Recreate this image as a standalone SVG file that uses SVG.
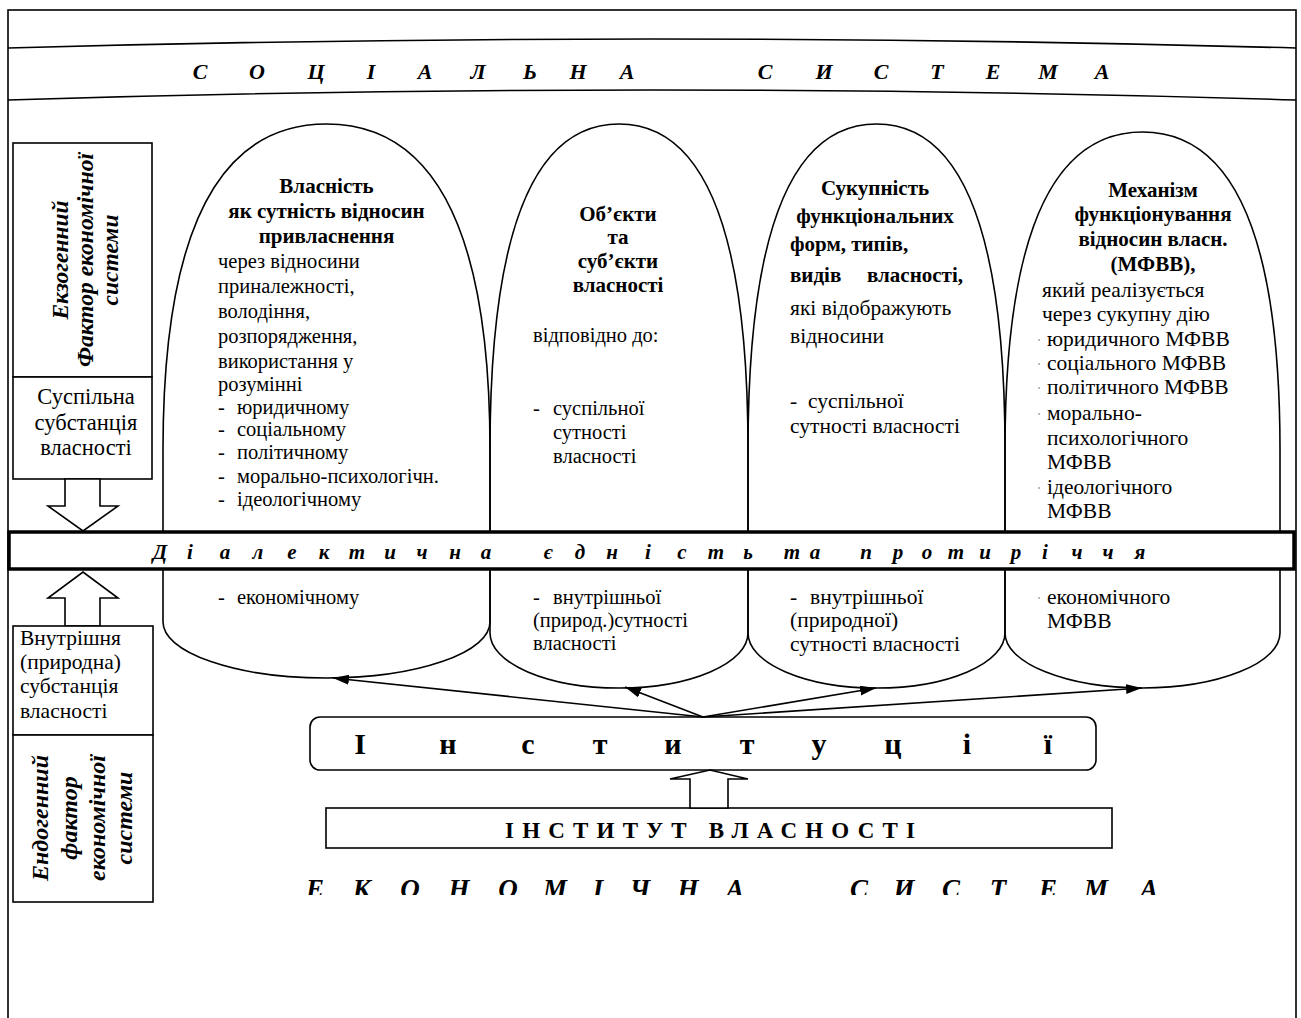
<svg xmlns="http://www.w3.org/2000/svg" width="1301" height="1018" viewBox="0 0 1301 1018">
<style>
.ln{fill:none;stroke:#000;stroke-width:1.6}
.box{fill:#fff;stroke:#000;stroke-width:1.6}
.t{font-family:"Liberation Serif","Times New Roman",serif;font-size:20.5px;fill:#000}
.b{font-weight:bold;font-size:21px}
.bi{font-weight:bold;font-style:italic}
.c{text-anchor:middle}
.r4{font-size:21.5px}
</style>
<defs>
<marker id="ah" markerUnits="userSpaceOnUse" markerWidth="18" markerHeight="12" refX="16" refY="5" orient="auto">
<path d="M0,0 L16,5 L0,10 z" fill="#000"/>
</marker>
<clipPath id="clipBottom"><rect x="0" y="860" width="1301" height="35"/></clipPath>
</defs>
<rect width="1301" height="1018" fill="#fff"/>

<g id="frame">
<rect x="8" y="10" width="1288" height="1030" class="ln"/>
</g>

<g id="social-system">
<path d="M8,48 Q650,30 1296,48" class="ln" stroke-width="2"/>
<path d="M8,100 Q650,80 1296,100" class="ln" stroke-width="2"/>
<text class="t bi c" style="font-size:22px" y="79" x="200 228 257 286 316 343 371 398 425 451 478 504 530 554 578 602 627 696 765 794 824 852 881 909 937 965 993 1020 1048 1075 1102">С О Ц І А Л Ь Н А С И С Т Е М А</text>
</g>

<g id="exogenous">
<rect x="13" y="143" width="139" height="234" class="box"/>
<g transform="translate(85,260) rotate(-90)">
<text class="t bi c" style="font-size:23.5px" x="0" y="-17">Екзогенний</text>
<text class="t bi c" style="font-size:23.5px" x="0" y="8">Фактор економічної</text>
<text class="t bi c" style="font-size:23.5px" x="0" y="33">системи</text>
</g>
</g>

<g id="social-substance">
<rect x="13" y="377" width="139" height="102" class="box"/>
<text class="t c" style="font-size:22.5px" x="86" y="404">Суспільна</text>
<text class="t c" style="font-size:22.5px" x="86" y="430">субстанція</text>
<text class="t c" style="font-size:22.5px" x="86" y="455">власності</text>
<polygon points="65,479 65,506 48,506 83,531 118,506 100,506 100,479" class="box"/>
</g>

<g id="inner-substance">
<polygon points="65,626 65,598 48,598 83,572 118,598 100,598 100,626" class="box"/>
<rect x="13" y="626" width="140" height="109" class="box"/>
<text class="t" style="font-size:21.5px" x="20" y="645">Внутрішня</text>
<text class="t" style="font-size:21.5px" x="20" y="669">(природна)</text>
<text class="t" style="font-size:21.5px" x="20" y="693">субстанція</text>
<text class="t" style="font-size:21.5px" x="20" y="718">власності</text>
</g>

<g id="endogenous">
<rect x="13" y="735" width="140" height="167" class="box" stroke-width="2.2"/>
<g transform="translate(83,818) rotate(-90)">
<text class="t bi c" style="font-size:24px" x="0" y="-35">Ендогенний</text>
<text class="t bi c" style="font-size:24px" x="0" y="-6">фактор</text>
<text class="t bi c" style="font-size:24px" x="0" y="22">економічної</text>
<text class="t bi c" style="font-size:24px" x="0" y="49">системи</text>
</g>
</g>

<g id="arch1">
<path d="M163,532 L163,450 C163,270 200,124 326.5,124 C453,124 490,270 490,450 L490,532" class="ln"/>
<path d="M163,570 L163,622 A163.5,56 0 0 0 490,622 L490,570" class="ln"/>
<text class="t b c" x="326.5" y="193">Власність</text>
<text class="t b c" x="326.5" y="218">як сутність відносин</text>
<text class="t b c" x="326.5" y="243">привласнення</text>
<text class="t" x="218" y="268">через відносини</text>
<text class="t" x="218" y="293">приналежності,</text>
<text class="t" x="218" y="318">володіння,</text>
<text class="t" x="218" y="343">розпорядження,</text>
<text class="t" x="218" y="368">використання у</text>
<text class="t" x="218" y="391">розумінні</text>
<text class="t" x="218" y="414">-</text><text class="t" x="237" y="414">юридичному</text>
<text class="t" x="218" y="436">-</text><text class="t" x="237" y="436">соціальному</text>
<text class="t" x="218" y="459">-</text><text class="t" x="237" y="459">політичному</text>
<text class="t" x="218" y="483">-</text><text class="t" x="237" y="483">морально-психологічн.</text>
<text class="t" x="218" y="506">-</text><text class="t" x="237" y="506">ідеологічному</text>
<text class="t" x="218" y="604">-</text><text class="t" x="237" y="604">економічному</text>
</g>

<g id="arch2">
<path d="M490,532 L490,450 C490,270 519,124 619,124 C719,124 748,270 748,450 L748,532" class="ln"/>
<path d="M490,570 L490,633 A129,55 0 0 0 748,633 L748,570" class="ln"/>
<text class="t b c" x="618" y="221">Об’єкти</text>
<text class="t b c" x="618" y="244">та</text>
<text class="t b c" x="618" y="268">суб’єкти</text>
<text class="t b c" x="618" y="292">власності</text>
<text class="t" x="533" y="342">відповідно до:</text>
<text class="t" x="533" y="415">-</text><text class="t" x="553" y="415">суспільної</text>
<text class="t" x="553" y="439">сутності</text>
<text class="t" x="553" y="463">власності</text>
<text class="t" x="533" y="604">-</text><text class="t" x="553" y="604">внутрішньої</text>
<text class="t" x="533" y="627">(природ.)сутності</text>
<text class="t" x="533" y="650">власності</text>
</g>

<g id="arch3">
<path d="M748,532 L748,450 C748,270 777,124 876.5,124 C976,124 1005,270 1005,450 L1005,532" class="ln"/>
<path d="M748,570 L748,633 A128.5,55 0 0 0 1005,633 L1005,570" class="ln"/>
<text class="t b c" x="875" y="195">Сукупність</text>
<text class="t b c" x="875" y="223">функціональних</text>
<text class="t b" x="790" y="251">форм, типів,</text>
<text class="t b" y="282"><tspan x="790">видів</tspan> <tspan x="963" text-anchor="end">власності,</tspan></text>
<text class="t r4" x="790" y="315">які відображують</text>
<text class="t r4" x="790" y="343">відносини</text>
<text class="t r4" x="790" y="408">-</text><text class="t r4" x="808" y="408">суспільної</text>
<text class="t r4" x="790" y="433">сутності власності</text>
<text class="t r4" x="790" y="604">-</text><text class="t r4" x="810" y="604">внутрішньої</text>
<text class="t r4" x="790" y="627">(природної)</text>
<text class="t r4" x="790" y="651">сутності власності</text>
</g>

<g id="arch4">
<path d="M1005,532 L1005,450 C1005,275 1036,132 1142.5,132 C1249,132 1280,275 1280,450 L1280,532" class="ln"/>
<path d="M1005,570 L1005,633 A137.5,55 0 0 0 1280,633 L1280,570" class="ln"/>
<text class="t b c" x="1153" y="197">Механізм</text>
<text class="t b c" x="1153" y="221">функціонування</text>
<text class="t b c" x="1153" y="246">відносин власн.</text>
<text class="t b c" x="1153" y="271">(МФВВ),</text>
<text class="t r4" x="1042" y="297">який реалізується</text>
<text class="t r4" x="1042" y="321">через сукупну дію</text>
<text class="t r4" x="1047" y="346">юридичного МФВВ</text>
<text class="t r4" x="1047" y="370">соціального МФВВ</text>
<text class="t r4" x="1047" y="394">політичного МФВВ</text>
<text class="t r4" x="1047" y="420">морально-</text>
<text class="t r4" x="1047" y="445">психологічного</text>
<text class="t r4" x="1047" y="469">МФВВ</text>
<text class="t r4" x="1047" y="494">ідеологічного</text>
<text class="t r4" x="1047" y="518">МФВВ</text>
<text class="t r4" x="1047" y="604">економічного</text>
<text class="t r4" x="1047" y="628">МФВВ</text>
<g fill="#999">
<circle cx="1039" cy="340" r="0.9"/><circle cx="1039" cy="364" r="0.9"/><circle cx="1039" cy="388" r="0.9"/><circle cx="1039" cy="414" r="0.9"/><circle cx="1039" cy="488" r="0.9"/><circle cx="1039" cy="598" r="0.9"/>
</g>
</g>

<g id="dialectic">
<rect x="9" y="532" width="1285" height="37" fill="#fff" stroke="#000" stroke-width="3.5"/>
<text class="t bi c" style="font-size:21px" y="559" x="160 175 190 207 225 241 258 275 292 308 324 340 357 373 390 406 422 438 455 470 486 517 548 564 580 596 612 630 648 665 682 699 716 732 748 770 792 803 815 840 866 882 898 912 927 941 956 970 985 1000 1016 1030 1045 1061 1077 1092 1108 1124 1140">Д і а л е к т и ч н а є д н і с т ь т а п р о т и р і ч ч я</text>
</g>

<g id="institutions">
<rect x="310" y="717" width="786" height="53" rx="10" class="box"/>
<text class="t c" style="font-size:30px;font-weight:bold" y="754" x="360 404 448 488 528 564 600 636 673 710 747 783 819 856 893 930 967 1007 1048">І н с т и т у ц і ї</text>
</g>

<g id="property-institute">
<rect x="326" y="808" width="786" height="40" class="box"/>
<text class="t" style="font-size:23px;font-weight:bold" x="505" y="838" textLength="410" lengthAdjust="spacing">ІНСТИТУТ ВЛАСНОСТІ</text>
<polygon points="690,808 690,779 670,779 710,770 748,779 728,779 728,808" class="box"/>
</g>

<g id="economic-system">
<text class="t bi c" style="font-size:27px" y="898" clip-path="url(#clipBottom)" x="315 338 362 386 410 434 459 483 508 531 555 576 598 619 640 664 688 711 735 797 859 881 904 927 951 974 998 1023 1048 1072 1096 1122 1149">Е К О Н О М І Ч Н А С И С Т Е М А</text>
</g>

<g id="connectors" class="ln" stroke-width="1.5">
<line x1="703" y1="717" x2="333" y2="678" marker-end="url(#ah)"/>
<line x1="703" y1="717" x2="625" y2="687" marker-end="url(#ah)"/>
<line x1="703" y1="717" x2="876" y2="688" marker-end="url(#ah)"/>
<line x1="703" y1="717" x2="1142" y2="688" marker-end="url(#ah)"/>
</g>
</svg>
